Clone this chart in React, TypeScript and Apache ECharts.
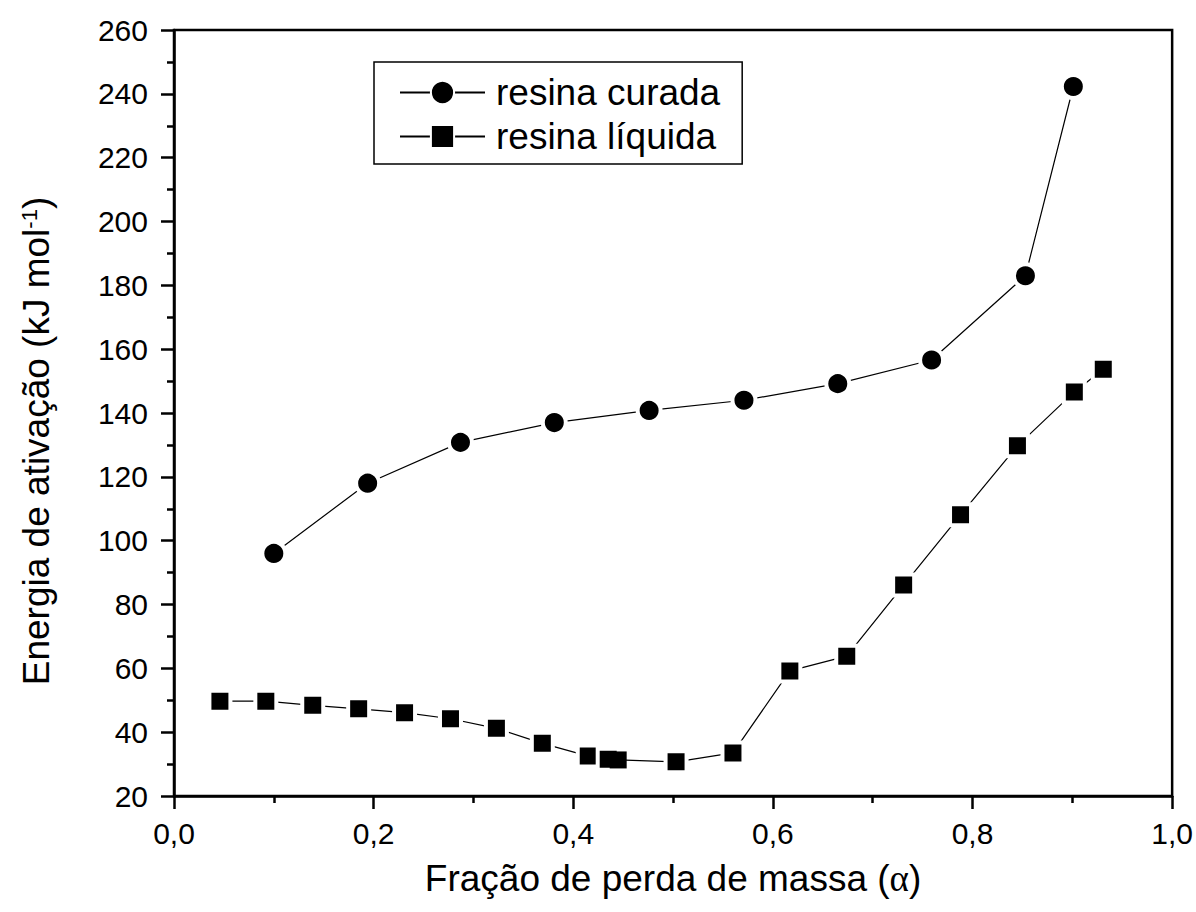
import React, { useEffect, useRef } from "react";
import * as echarts from "echarts";

const FONT = "'Liberation Sans', Arial, Helvetica, sans-serif";
const SERIF = "'Liberation Serif', 'Times New Roman', serif";

const seriesNames = ["resina curada", "resina líquida"];

const curadaX = [0.1, 0.194, 0.287, 0.381, 0.476, 0.571, 0.665, 0.759, 0.853, 0.901];
const curadaY = [96.0, 118.0, 130.8, 137.0, 140.8, 144.0, 149.2, 156.6, 183.0, 242.3];

const liquidaX = [
  0.046, 0.092, 0.139, 0.185, 0.231, 0.277, 0.323, 0.369, 0.415, 0.435, 0.445,
  0.503, 0.56, 0.617, 0.674, 0.731, 0.788, 0.845, 0.902, 0.931,
];
const liquidaY = [
  49.7, 49.7, 48.4, 47.3, 46.1, 44.2, 41.2, 36.5, 32.5, 31.5, 31.3,
  30.7, 33.5, 59.2, 63.8, 86.1, 108.1, 129.7, 146.6, 153.7,
];

const xMin = 0;
const xMax = 1;
const xStep = 0.2;
const yMin = 20;
const yMax = 260;
const yStep = 20;

const xTitle = "{t|Fração de perda de massa (}{a|α}{t|)}";
const yTitle = "{t|Energia de ativação (kJ mol}{s|-1}{t|)}";

export default function App() {
  const ref = useRef<HTMLDivElement>(null);

  useEffect(() => {
    if (!ref.current) return;
    const chart = echarts.init(ref.current, null, { renderer: "svg" });
    const axisColor = "#000";

    // squares that overlap their predecessor are drawn without the white halo
    const liquidaData = liquidaX.map((x, i) => {
      const close = i > 0 && x - liquidaX[i - 1] < 0.015;
      return close
        ? { value: [x, liquidaY[i]], symbolSize: 17, itemStyle: { borderWidth: 0 } }
        : { value: [x, liquidaY[i]] };
    });

    chart.setOption({
      animation: false,
      backgroundColor: "#ffffff",
      textStyle: { fontFamily: FONT, color: "#000" },
      grid: {
        left: 174,
        top: 30,
        right: 23,
        bottom: 116,
        show: true,
        borderColor: axisColor,
        borderWidth: 2.5,
        backgroundColor: "transparent",
      },
      legend: {
        show: true,
        orient: "vertical",
        left: 374,
        top: 62,
        padding: [12, 22, 9, 25],
        itemWidth: 85,
        itemHeight: 29,
        itemGap: 7,
        borderColor: "#000",
        borderWidth: 1.5,
        backgroundColor: "#fff",
        textStyle: { fontSize: 37, color: "#000", fontFamily: FONT, padding: [0, 0, 0, 6] },
        data: seriesNames,
      },
      xAxis: {
        type: "value",
        min: xMin,
        max: xMax,
        interval: xStep,
        name: xTitle,
        nameLocation: "middle",
        nameGap: 64,
        nameTextStyle: {
          rich: {
            t: { fontSize: 37, fontFamily: FONT, color: "#000" },
            a: { fontSize: 37, fontFamily: SERIF, color: "#000" },
          },
        },
        axisLine: { show: true, lineStyle: { color: axisColor, width: 2.5 } },
        axisTick: { show: true, inside: false, length: 13, lineStyle: { color: axisColor, width: 2.5 } },
        minorTick: { show: true, splitNumber: 2, length: 7, lineStyle: { color: axisColor, width: 2.5 } },
        splitLine: { show: false },
        axisLabel: {
          fontSize: 30,
          color: "#000",
          fontFamily: FONT,
          margin: 22,
          formatter: (v: number) => v.toFixed(1).replace(".", ","),
        },
      },
      yAxis: {
        type: "value",
        min: yMin,
        max: yMax,
        interval: yStep,
        name: yTitle,
        nameLocation: "middle",
        nameGap: 119,
        nameTextStyle: {
          padding: [0, 56, 0, 0],
          rich: {
            t: { fontSize: 37, fontFamily: FONT, color: "#000" },
            s: { fontSize: 22, fontFamily: FONT, color: "#000", verticalAlign: "top" },
          },
        },
        axisLine: { show: true, lineStyle: { color: axisColor, width: 2.5 } },
        axisTick: { show: true, inside: false, length: 13, lineStyle: { color: axisColor, width: 2.5 } },
        minorTick: { show: true, splitNumber: 2, length: 7, lineStyle: { color: axisColor, width: 2.5 } },
        splitLine: { show: false },
        axisLabel: {
          fontSize: 30,
          color: "#000",
          fontFamily: FONT,
          margin: 26,
        },
      },
      series: [
        {
          name: seriesNames[0],
          type: "line",
          data: curadaX.map((x, i) => [x, curadaY[i]]),
          symbol: "circle",
          symbolSize: 23,
          lineStyle: { color: "#000", width: 1.2 },
          itemStyle: { color: "#000", borderColor: "#fff", borderWidth: 4 },
          z: 3,
        },
        {
          name: seriesNames[1],
          type: "line",
          data: liquidaData,
          symbol: "rect",
          symbolSize: 21,
          lineStyle: { color: "#000", width: 1.2 },
          itemStyle: { color: "#000", borderColor: "#fff", borderWidth: 4 },
          z: 3,
        },
      ],
    });
    return () => chart.dispose();
  }, []);

  return (
    <div
      ref={ref}
      style={{ position: "absolute", left: 0, top: 0, width: 1196, height: 912, background: "#fff" }}
    />
  );
}
